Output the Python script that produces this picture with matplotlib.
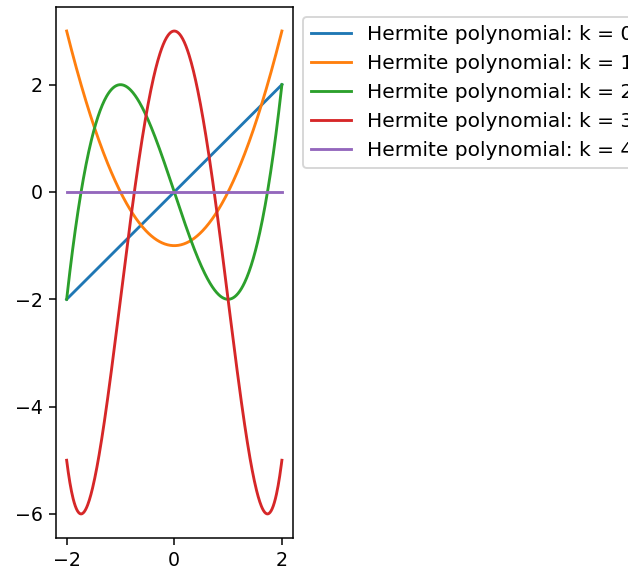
import matplotlib
matplotlib.use("Agg")
import matplotlib.pyplot as plt
import numpy as np

# polynomial coefficients (highest power first)
k_values = [0, 1, 2, 3, 4]
coeffs = [
    [1, 0],              # k = 0 : x
    [1, 0, -1],          # k = 1 : x^2 - 1
    [1, 0, -3, 0],       # k = 2 : x^3 - 3x
    [1, 0, -6, 0, 3],    # k = 3 : x^4 - 6x^2 + 3
    [0],                 # k = 4 : flat at 0
]
x_min, x_max = -2, 2

DPI = 137
fig = plt.figure(figsize=(628 / DPI, 573 / DPI), dpi=DPI)
ax = fig.add_axes([0.089, 0.061, 0.377, 0.927])

x = np.linspace(x_min, x_max, 400)
for k, c in zip(k_values, coeffs):
    y = np.polyval(c, x) * np.ones_like(x)
    ax.plot(x, y, label="Hermite polynomial: k = %d" % k)

ax.legend(loc="upper left", bbox_to_anchor=(1.0, 1), fontsize=10.6)

plt.savefig("out.png", dpi=DPI)
plt.close()
